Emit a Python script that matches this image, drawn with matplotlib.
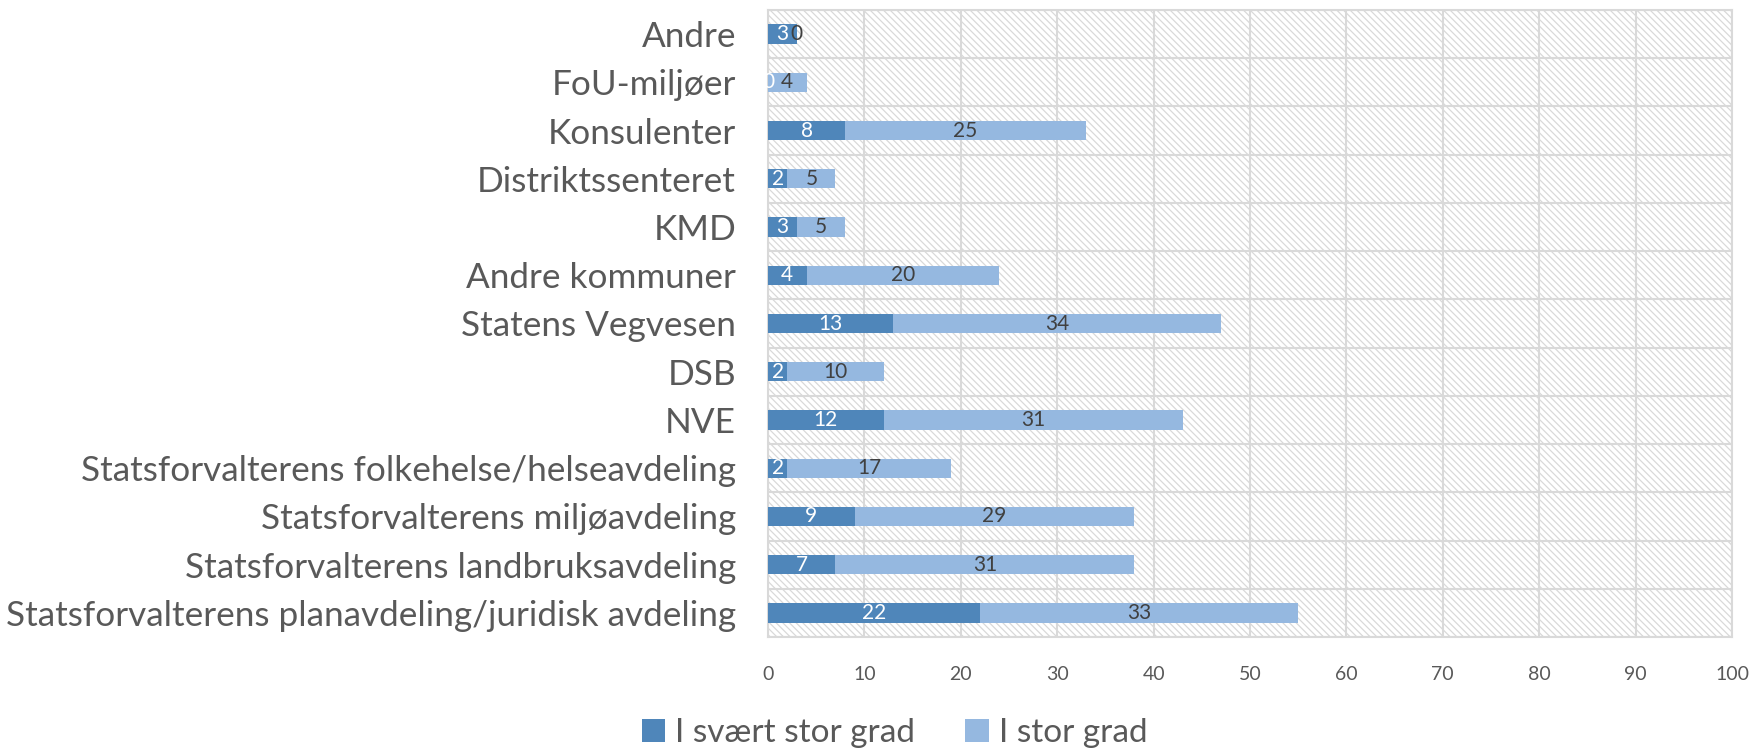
import numpy as np
import matplotlib
matplotlib.use("Agg")
import matplotlib.pyplot as plt
from matplotlib.patches import Rectangle

# Data (bottom to top as drawn)
categories = [
    "Statsforvalterens planavdeling/juridisk avdeling",
    "Statsforvalterens landbruksavdeling",
    "Statsforvalterens miljøavdeling",
    "Statsforvalterens folkehelse/helseavdeling",
    "NVE",
    "DSB",
    "Statens Vegvesen",
    "Andre kommuner",
    "KMD",
    "Distriktssenteret",
    "Konsulenter",
    "FoU-miljøer",
    "Andre",
]
svaert_stor = [22, 7, 9, 2, 12, 2, 13, 4, 3, 2, 8, 0, 3]
stor = [33, 31, 29, 17, 31, 10, 34, 20, 5, 5, 25, 4, 0]
series_names = ["I svært stor grad", "I stor grad"]
xticks = list(range(0, 101, 10))

plt.rcParams['font.family'] = ['Lato', 'DejaVu Sans']
plt.rcParams['hatch.color'] = '#D9D9D9'
plt.rcParams['hatch.linewidth'] = 0.9

dark = '#4F86BA'
light = '#95B8E0'
txt = '#595959'

fig = plt.figure(figsize=(17.54, 7.49), dpi=100)
ax = fig.add_axes([768/1754, 1 - 637/749, (1732-768)/1754, (637-10)/749])

y = np.arange(len(categories))
h = 0.4

# hatched background
ax.add_patch(Rectangle((0, 0), 1, 1, transform=ax.transAxes, facecolor='white',
                       edgecolor='#D9D9D9', hatch='\\\\\\\\\\', linewidth=0, zorder=0))

b1 = ax.barh(y, svaert_stor, height=h, color=dark, label=series_names[0], zorder=3)
b2 = ax.barh(y, stor, left=svaert_stor, height=h, color=light, label=series_names[1], zorder=3)

ax.bar_label(b1, labels=[str(v) for v in svaert_stor], label_type='center',
             color='white', fontsize=15, zorder=4)
ax.bar_label(b2, labels=[str(v) for v in stor], label_type='center',
             color='#404040', fontsize=15, zorder=4)

ax.set_xlim(0, 100)
ax.set_ylim(-0.5, len(categories) - 0.5)
ax.set_xticks(xticks)
ax.set_yticks(y)
ax.set_yticklabels(categories)
ax.set_yticks(np.arange(-0.5, len(categories), 1), minor=True)

ax.grid(axis='x', color='#D9D9D9', linewidth=1.5, zorder=1)
ax.grid(axis='y', which='minor', color='#D9D9D9', linewidth=1.5, zorder=1)
ax.set_axisbelow(True)

for s in ax.spines.values():
    s.set_color('#D9D9D9')
    s.set_linewidth(1.5)

ax.tick_params(axis='x', length=0, labelsize=14, labelcolor=txt, pad=21)
ax.tick_params(axis='y', which='both', length=0, labelsize=25.3, labelcolor=txt, pad=23)

leg = fig.legend(handles=[b1, b2], loc='lower center', bbox_to_anchor=(0.51, -0.026),
                 ncol=2, frameon=False, fontsize=24, handlelength=0.7, handleheight=0.7,
                 handletextpad=0.3, columnspacing=1.5, borderpad=0.1)
for t in leg.get_texts():
    t.set_color(txt)

fig.savefig("out.png", dpi=100)
